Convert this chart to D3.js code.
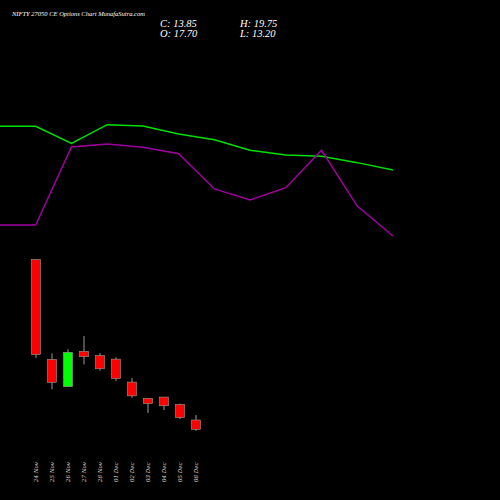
<!DOCTYPE html>
<html><head><meta charset="utf-8">
<script src="https://cdn.jsdelivr.net/npm/d3@7"></script>
<style>body{margin:0;background:#000}</style></head>
<body><svg id="c" width="500" height="500"></svg>
<script>
const dates=["24 Nov","25 Nov","26 Nov","27 Nov","28 Nov","01 Dec","02 Dec","03 Dec","04 Dec","05 Dec","08 Dec"];
const opens=[84.1,42.8,31.5,46.1,44.4,42.9,33.4,26.7,27.2,24.1,17.7];
const highs=[84.1,45.3,47.0,52.5,45.4,43.6,35.1,26.7,27.2,24.5,19.75];
const lows=[43.4,30.4,31.5,40.7,38.2,33.9,26.9,20.6,21.8,18.1,13.2];
const closes=[44.8,33.3,45.7,43.9,38.9,34.9,27.7,24.5,23.6,18.7,13.85];
const greenLine=[88.4,88.4,76.2,89.5,88.6,82.9,78.8,71.2,67.9,66.9,62.4,57.1];
const purpleLine=[17.9,17.9,73.6,75.7,73.4,68.8,43.6,35.7,44.5,71.2,31.4,10.0];

const svg=d3.select("#c");
svg.append("rect").attr("width",500).attr("height",500).attr("fill","#000");
const x=d3.scaleLinear().domain([0,10]).range([36,196]);
const y=d3.scaleLinear().domain([17.7,13.85]).range([420,429.3]);
const lx=d3.scaleLinear().domain([0,11]).range([0,393]);
const ly=d3.scaleLinear().domain([0,100]).range([250,110]);
const line=d3.line().x((d,i)=>lx(i)).y(d=>ly(d));
svg.append("path").attr("d",line(greenLine)).attr("fill","none").attr("stroke","#00e000").attr("stroke-width",1.5);
svg.append("path").attr("d",line(purpleLine)).attr("fill","none").attr("stroke","#a000a0").attr("stroke-width",1.5);

const g=svg.append("g");
dates.forEach((d,i)=>{
  const cx=x(i),up=closes[i]>=opens[i];
  g.append("line").attr("x1",cx).attr("x2",cx).attr("y1",y(highs[i])).attr("y2",y(lows[i])).attr("stroke","#999").attr("stroke-width",1);
  const t=y(Math.max(opens[i],closes[i])),b=y(Math.min(opens[i],closes[i]));
  g.append("rect").attr("x",cx-4.5).attr("y",t).attr("width",9).attr("height",Math.max(1,b-t))
   .attr("fill",up?"#00ff00":"#ff0000").attr("stroke","#999").attr("stroke-width",0.6);
  svg.append("text").attr("transform",`translate(${cx+2},482) rotate(-90)`).attr("fill","#ddd")
   .attr("font-family","DejaVu Serif").attr("font-style","italic").attr("font-size",5.5).text(d);
});
const tf=(t,xx,yy,s)=>svg.append("text").attr("x",xx).attr("y",yy).attr("fill","#fff").attr("font-family","Liberation Serif").attr("font-style","italic").attr("font-size",s).text(t);
tf("NIFTY 27050  CE Options  Chart MunafaSutra.com",12,16,6.5);
tf("C: 13.85",160,27,10.5);tf("O: 17.70",160,37,10.5);
tf("H: 19.75",240,27,10.5);tf("L: 13.20",240,37,10.5);
</script></body></html>
